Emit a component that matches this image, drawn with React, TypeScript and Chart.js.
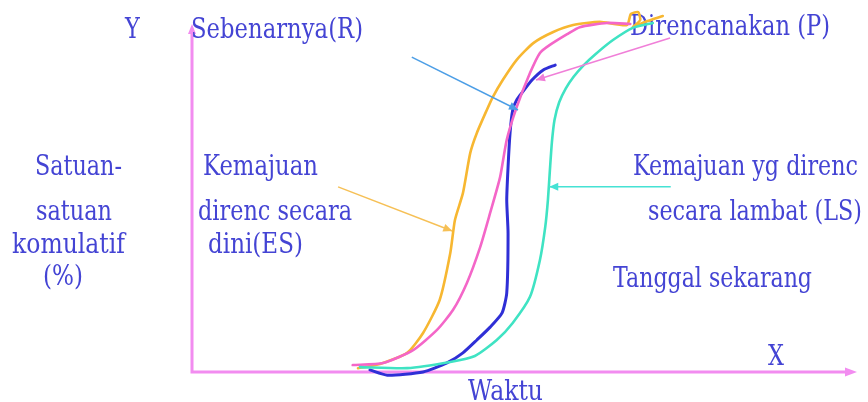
import React, { useEffect, useRef } from "react";
import { Chart, registerables } from "chart.js";

Chart.register(...registerables);

// ---- Data (x = Waktu, 0..100 ; y = satuan komulatif %, 0..100) ----
const esWaktu = [25.0, 28.3, 32.4, 34.8, 37.3, 38.9, 39.6, 40.8, 41.9, 42.9, 44.4, 45.3, 46.8, 48.9, 51.4, 54.4, 57.4, 61.4, 65.5, 66.1, 67.2, 67.5, 66.4, 68.2, 70.9];
const esPersen = [1.1, 2.3, 5.5, 11.2, 20.7, 34.2, 43.7, 51.4, 62.9, 68.7, 75.3, 79.0, 83.9, 89.7, 94.5, 97.7, 99.7, 100.6, 99.7, 102.9, 103.4, 101.1, 99.1, 100.6, 102.3];

const pWaktu = [24.2, 28.8, 33.3, 36.9, 39.3, 41.4, 43.4, 44.9, 46.4, 47.4, 48.9, 50.9, 52.4, 53.9, 56.5, 58.4, 62.5, 66.0];
const pPersen = [2.0, 2.6, 6.3, 12.1, 17.8, 25.6, 35.9, 45.7, 56.0, 66.7, 76.1, 85.9, 91.7, 94.0, 97.1, 99.1, 100.3, 100.0];

const rWaktu = [26.8, 29.4, 34.8, 38.4, 40.8, 42.9, 44.9, 46.7, 47.4, 47.6, 47.4, 47.6, 47.9, 48.3, 48.9, 49.8, 51.2, 52.9, 54.7];
const rPersen = [0.6, -0.9, 0.0, 2.6, 5.5, 9.2, 12.9, 17.0, 22.7, 39.9, 49.4, 58.9, 68.7, 75.3, 78.2, 80.5, 83.9, 86.8, 88.2];

const lsWaktu = [25.3, 32.4, 38.9, 42.6, 45.9, 48.3, 50.9, 52.4, 53.2, 53.6, 53.9, 54.2, 54.6, 55.3, 56.3, 57.5, 59.0, 60.8, 63.4, 66.4, 69.4];
const lsPersen = [1.4, 1.1, 2.9, 4.6, 9.2, 14.1, 21.6, 32.2, 41.7, 49.4, 58.0, 66.0, 72.5, 77.5, 81.5, 84.9, 88.2, 91.4, 95.4, 98.9, 100.3];

// arrows: [fromX, fromY, toX, toY] in data units
const arrowR = [33.1, 90.5, 49.1, 75.3];
const arrowES = [22.0, 53.2, 39.2, 40.5];
const arrowP = [72.0, 96.0, 51.8, 83.9];
const arrowLS = [72.1, 53.2, 53.8, 53.2];

// label texts
const labelTexts = [
  "Y",
  "Sebenarnya(R)",
  "Direncanakan (P)",
  "Satuan-",
  "satuan",
  "komulatif",
  "(%)",
  "Kemajuan",
  "direnc secara",
  "dini(ES)",
  "Kemajuan yg direnc",
  "secara lambat (LS)",
  "Tanggal sekarang",
  "X",
  "Waktu",
];

// ---- Layout / style ----
const W = 868;
const H = 402;
// [left x, baseline y, target width]
const labelLayout: [number, number, number][] = [
  [125, 38, 13],
  [191, 38, 172],
  [630, 35, 200],
  [35, 175, 87],
  [36, 220, 76],
  [12, 253, 113],
  [43, 285, 40],
  [203, 175, 115],
  [198, 220, 154],
  [208, 253, 95],
  [633, 175, 225],
  [648, 220, 214],
  [613, 287, 199],
  [768, 365, 16],
  [468, 400, 75],
];
const TEXT_COLOR = "#4444d4";
const AXIS_COLOR = "#f28cf0";
const ORANGE = "#f7b731";
const PINK = "#f466c8";
const BLUE = "#2f2fd6";
const CYAN = "#3fe3c3";

const toPts = (xs: number[], ys: number[]) => xs.map((x, i) => ({ x, y: ys[i] }));

function arrowHead(ctx: CanvasRenderingContext2D, x1: number, y1: number, x2: number, y2: number, len: number, half: number) {
  const a = Math.atan2(y2 - y1, x2 - x1);
  ctx.beginPath();
  ctx.moveTo(x2, y2);
  ctx.lineTo(x2 - len * Math.cos(a) + half * Math.sin(a), y2 - len * Math.sin(a) - half * Math.cos(a));
  ctx.lineTo(x2 - len * Math.cos(a) - half * Math.sin(a), y2 - len * Math.sin(a) + half * Math.cos(a));
  ctx.closePath();
  ctx.fill();
}

const decorPlugin = {
  id: "decor",
  beforeDatasetsDraw(chart: any) {
    const ctx: CanvasRenderingContext2D = chart.ctx;
    const { left, right, top, bottom } = chart.chartArea;
    ctx.save();
    // axes
    ctx.strokeStyle = AXIS_COLOR;
    ctx.fillStyle = AXIS_COLOR;
    ctx.lineWidth = 3;
    ctx.beginPath();
    ctx.moveTo(left, top + 6);
    ctx.lineTo(left, bottom);
    ctx.lineTo(right - 8, bottom);
    ctx.stroke();
    arrowHead(ctx, left, bottom, left, top, 10, 4);
    arrowHead(ctx, left, bottom, right + 1, bottom, 12, 4.5);
    // texts
    ctx.fillStyle = TEXT_COLOR;
    ctx.font = "28px 'DejaVu Serif', serif";
    ctx.textBaseline = "alphabetic";
    ctx.textAlign = "left";
    labelTexts.forEach((t, i) => {
      const [x, y, w] = labelLayout[i];
      const m = ctx.measureText(t).width;
      const sx = t.length === 1 ? 0.8 : w / m;
      ctx.save();
      ctx.translate(x, y);
      ctx.scale(sx, 1);
      ctx.fillText(t, 0, 0);
      ctx.restore();
    });
    ctx.restore();
  },
  afterDatasetsDraw(chart: any) {
    const ctx: CanvasRenderingContext2D = chart.ctx;
    const xs = chart.scales.x;
    const ys = chart.scales.y;
    const arrows: [number[], string][] = [
      [arrowR, "#4c9ee6"],
      [arrowES, "#f6c056"],
      [arrowP, "#f07fd8"],
      [arrowLS, "#45e2d4"],
    ];
    ctx.save();
    arrows.forEach(([a, c]) => {
      const x1 = xs.getPixelForValue(a[0]);
      const y1 = ys.getPixelForValue(a[1]);
      const x2 = xs.getPixelForValue(a[2]);
      const y2 = ys.getPixelForValue(a[3]);
      ctx.strokeStyle = c;
      ctx.fillStyle = c;
      ctx.lineWidth = 1.5;
      ctx.beginPath();
      ctx.moveTo(x1, y1);
      ctx.lineTo(x2, y2);
      ctx.stroke();
      arrowHead(ctx, x1, y1, x2, y2, 9, 4);
    });
    ctx.restore();
  },
};

export default function App() {
  const ref = useRef<HTMLCanvasElement | null>(null);
  useEffect(() => {
    if (!ref.current) return;
    const mk = (data: { x: number; y: number }[], color: string, width: number) => ({
      data,
      borderColor: color,
      backgroundColor: color,
      borderWidth: width,
      pointRadius: 0,
      tension: 0.2,
      fill: false,
      clip: false as any,
      borderCapStyle: "round" as const,
      borderJoinStyle: "round" as const,
    });
    const chart = new Chart(ref.current, {
      type: "line",
      data: {
        datasets: [
          { label: "Direncanakan secara lambat (LS)", ...mk(toPts(lsWaktu, lsPersen), CYAN, 2.6) },
          { label: "Direncanakan (P)", ...mk(toPts(pWaktu, pPersen), PINK, 2.6) },
          { label: "Direncanakan secara dini (ES)", ...mk(toPts(esWaktu, esPersen), ORANGE, 2.6) },
          { label: "Sebenarnya (R)", ...mk(toPts(rWaktu, rPersen), BLUE, 3) },
        ],
      },
      options: {
        animation: false,
        responsive: false,
        events: [],
        layout: { padding: { left: 192, right: 12, top: 24, bottom: 30 } },
        plugins: { legend: { display: false }, tooltip: { enabled: false }, title: { display: false } },
        scales: {
          x: { type: "linear", min: 0, max: 100, display: false },
          y: { type: "linear", min: 0, max: 100, display: false },
        },
      },
      plugins: [decorPlugin],
    });
    return () => chart.destroy();
  }, []);
  return (
    <div style={{ position: "fixed", left: 0, top: 0, width: W, height: H, background: "#fff" }}>
      <canvas ref={ref} width={W} height={H} style={{ width: W, height: H, display: "block" }} />
    </div>
  );
}
